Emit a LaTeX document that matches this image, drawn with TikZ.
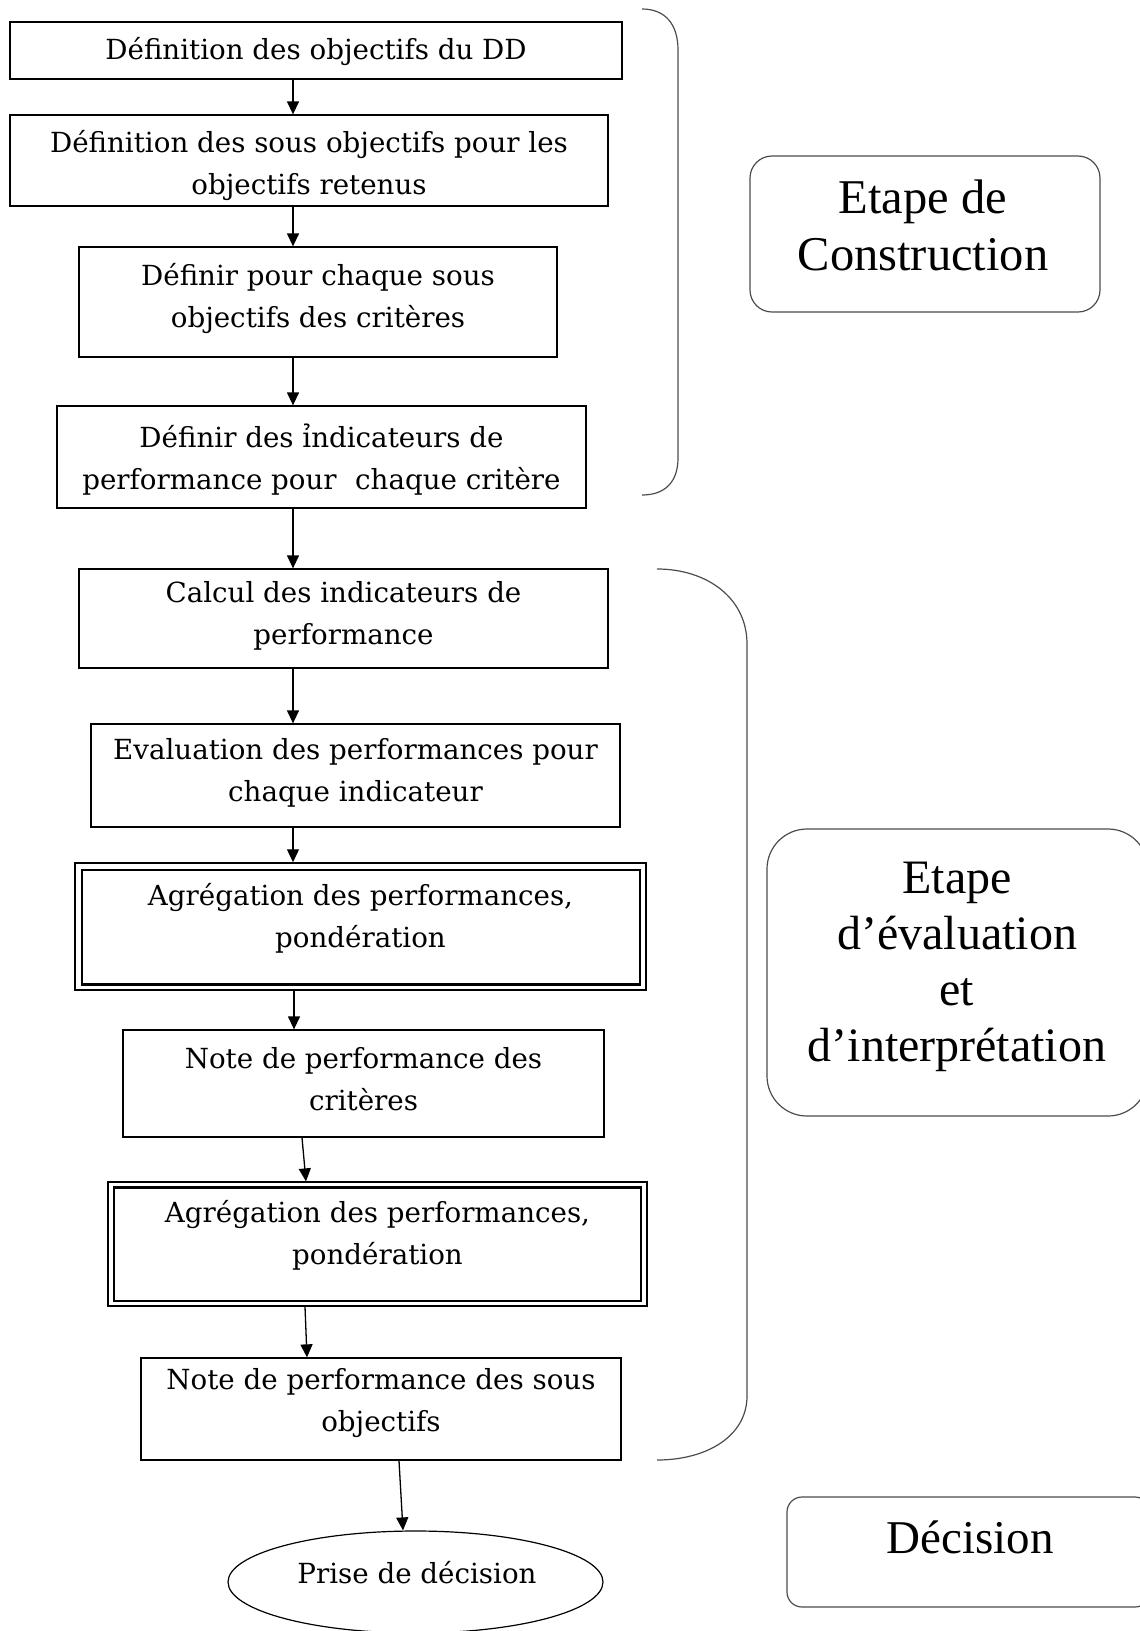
\documentclass[tikz,border=0pt]{standalone}
\usepackage{fontspec}
\setmainfont{DejaVu Serif}
\newfontfamily\stagefont{Liberation Serif}
\usetikzlibrary{arrows.meta,shapes.geometric}

\tikzset{
  flowbox/.style={draw=black, line width=1.3pt, rectangle, inner sep=0pt},
  boxtext/.style={align=center, inner sep=0pt, yshift=-2.5pt, font=\fontsize{27.7}{42}\selectfont},
  stagebox/.style={draw=black!70, line width=1.2pt, rectangle, inner sep=0pt},
  stagetext/.style={align=center, inner sep=0pt},
  brace/.style={draw=black!70, line width=1.2pt},
  flow/.style={draw=black, line width=1.3pt, -{Triangle[length=13pt,width=12pt]}},
}

\begin{document}
\begin{tikzpicture}[x=1pt,y=-1pt]
\useasboundingbox (0,0) rectangle (1140,1631);

% --- construction steps ---
\node[flowbox, minimum width=612, minimum height=57] (b1) at (316,50.5) {};
\node[boxtext] (b1t) at (316,49) {Définition des objectifs du DD};

\node[flowbox, minimum width=598, minimum height=91] (b2) at (309,160.5) {};
\node[boxtext] (b2t) at (309,163) {Définition des sous objectifs pour les\\objectifs retenus};

\node[flowbox, minimum width=478, minimum height=110] (b3) at (318,302) {};
\node[boxtext] (b3t) at (318,295.5) {Définir pour chaque sous\\objectifs des critères};

\node[flowbox, minimum width=529, minimum height=102] (b4) at (321.5,457) {};
\node[boxtext] (b4t) at (321.5,457.5) {Définir des ỉndicateurs de\\performance pour\hspace{0.35em} chaque critère};

% --- evaluation steps ---
\node[flowbox, minimum width=529, minimum height=99] (b5) at (343.5,618.5) {};
\node[boxtext] (b5t) at (343.5,613.5) {Calcul des indicateurs de\\performance};

\node[flowbox, minimum width=529, minimum height=103] (b6) at (355.5,775.5) {};
\node[boxtext] (b6t) at (355.5,770.5) {Evaluation des performances pour\\chaque indicateur};

% double-lined aggregation box (thick inner bottom)
\node[flowbox, line width=1.5pt, minimum width=571, minimum height=127] (b7) at (360.5,926.5) {};
\node[flowbox, line width=1.2pt, minimum width=558, minimum height=114] (b7i) at (361,927) {};
\draw[line width=2.4pt] (b7i.south west) -- (b7i.south east);
\node[boxtext] (b7t) at (360.5,916) {Agrégation des performances,\\pondération};

\node[flowbox, minimum width=481, minimum height=107] (b8) at (363.5,1083.5) {};
\node[boxtext] (b8t) at (363.5,1076.5) {Note de performance des\\critères};

% double-lined aggregation box (thick inner top)
\node[flowbox, line width=1.2pt, minimum width=539, minimum height=124] (b9) at (377.5,1244) {};
\node[flowbox, line width=1.2pt, minimum width=527, minimum height=113] (b9i) at (377.5,1244.5) {};
\draw[line width=2.4pt] (b9i.north west) -- (b9i.north east);
\node[boxtext] (b9t) at (377.5,1232.5) {Agrégation des performances,\\pondération};

\node[flowbox, minimum width=480, minimum height=102] (b10) at (381,1409) {};
\node[boxtext] (b10t) at (381,1400.5) {Note de performance des sous\\objectifs};

% --- decision ---
\node[draw=black, line width=1.2pt, ellipse, minimum width=375, minimum height=102, inner sep=0pt] (dec) at (415.5,1582) {};
\node[boxtext] (dect) at (417,1570) {Prise de décision};

% --- arrows ---
\draw[flow] ([xshift=-23]b1.south) -- ([xshift=-16]b2.north);
\draw[flow] ([xshift=-16]b2.south) -- ([xshift=-25]b3.north);
\draw[flow] ([xshift=-25]b3.south) -- ([xshift=-28.5]b4.north);
\draw[flow] ([xshift=-28.5]b4.south) -- ([xshift=-50.5]b5.north);
\draw[flow] ([xshift=-50.5]b5.south) -- ([xshift=-62.5]b6.north);
\draw[flow] ([xshift=-62.5]b6.south) -- ([xshift=-67.5]b7.north);
\draw[flow] ([xshift=-66.5]b7.south) -- ([xshift=-69.5]b8.north);
\draw[flow] ([xshift=-61.5]b8.south) -- ([xshift=-71.5]b9.north);
\draw[flow] ([xshift=-72.5]b9.south) -- ([xshift=-74]b10.north);
\draw[flow] ([xshift=18]b10.south) -- ([xshift=-12.5]dec.north);

% --- braces grouping the stages ---
\coordinate (c1top) at (642,9);
\coordinate (c1bot) at (642,495);
\draw[brace] (c1top) .. controls (665,9) and (678,24) .. (678,50)
  -- (678,458) .. controls (678,482) and (665,495) .. (c1bot);

\coordinate (c2top) at (657,569);
\coordinate (c2bot) at (657,1460);
\draw[brace] (c2top) .. controls (707,569) and (747,598) .. (747,644)
  -- (747,1396) .. controls (747,1436) and (707,1460) .. (c2bot);

% --- stage labels ---
\node[stagebox, rounded corners=22pt, minimum width=350, minimum height=156] (s1) at (925,234) {};
\node[stagetext, font=\stagefont\fontsize{48.5}{57}\selectfont] (s1t) at (923,225) {Etape de\\Construction};

\node[stagebox, rounded corners=40pt, minimum width=381, minimum height=287] (s2) at (957.5,972.5) {};
\node[stagetext, font=\stagefont\fontsize{48}{56}\selectfont] (s2t) at (957,967) {Etape\\d’évaluation\\et\\d’interprétation};

\node[stagebox, rounded corners=15pt, minimum width=363, minimum height=110] (s3) at (968.5,1552) {};
\node[stagetext, font=\stagefont\fontsize{47}{50}\selectfont] (s3t) at (970,1537) {Décision};
\end{tikzpicture}
\end{document}
